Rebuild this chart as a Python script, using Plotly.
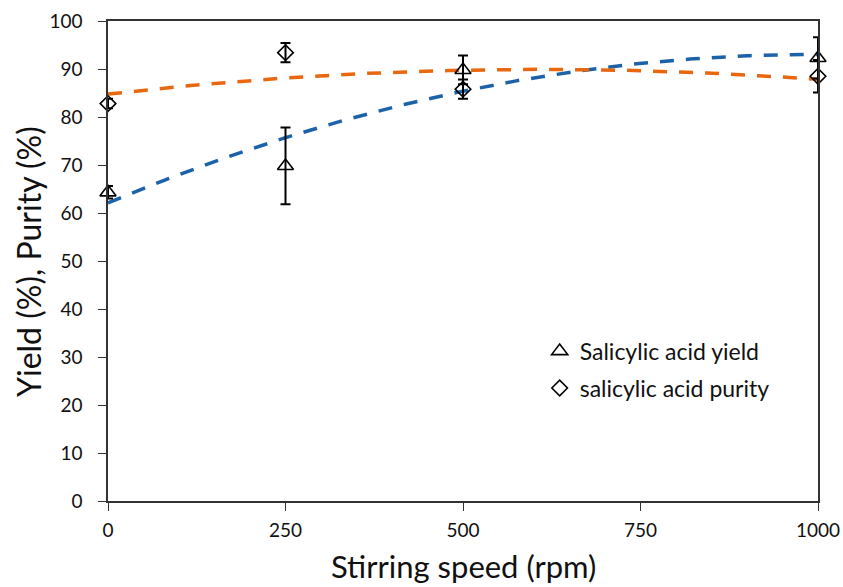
import numpy as np
import plotly.graph_objects as go

speed = [0, 250, 500, 1000]
yield_vals = [64.3, 69.8, 89.8, 92.3]
yield_err = [1.3, 8.0, 3.0, 4.3]
purity_vals = [82.8, 93.4, 85.8, 88.5]
purity_err = [1.0, 2.0, 2.0, 3.4]

blue = "#1B62A8"
orange = "#E8670F"
font_family = "Lato, 'Open Sans', sans-serif"

xs = np.linspace(0, 1000, 201)
fit_y = np.polyval(np.polyfit(speed, yield_vals, 2), xs)
fit_p = np.polyval(np.polyfit(speed, purity_vals, 2), xs)

fig = go.Figure()
fig.add_trace(go.Scatter(x=xs, y=fit_y, mode="lines", showlegend=False, cliponaxis=False,
                         line=dict(color=blue, width=3.5, dash="14px,12px"), hoverinfo="skip"))
fig.add_trace(go.Scatter(x=xs, y=fit_p, mode="lines", showlegend=False, cliponaxis=False,
                         line=dict(color=orange, width=3.5, dash="14px,12px"), hoverinfo="skip"))
fig.add_trace(go.Scatter(
    x=speed, y=yield_vals, mode="markers", name="Salicylic acid yield", legendgroup="a", cliponaxis=False,
    marker=dict(symbol="triangle-up-open", size=14, color="black", line=dict(width=1.6, color="black")),
    error_y=dict(type="data", array=yield_err, visible=True, color="black", thickness=2, width=5)))
fig.add_trace(go.Scatter(
    x=speed, y=purity_vals, mode="markers", name="salicylic acid purity", legendgroup="b", cliponaxis=False,
    marker=dict(symbol="diamond-open", size=12, color="black", line=dict(width=1.6, color="black")),
    error_y=dict(type="data", array=purity_err, visible=True, color="black", thickness=2, width=5)))

fig.update_layout(
    width=843, height=587,
    margin=dict(l=108, r=25, t=21, b=86),
    plot_bgcolor="white", paper_bgcolor="white",
    font=dict(family=font_family, color="#111111"),
    legend=dict(x=0.608, y=0.357, xanchor="left", yanchor="top", font=dict(size=23, color="#111111"),
                bgcolor="rgba(0,0,0,0)", tracegroupgap=4),
    xaxis=dict(range=[0, 1000], tickvals=[0, 250, 500, 750, 1000], showgrid=False, zeroline=False,
               showline=True, linecolor="#333333", linewidth=1.5, mirror=True, automargin=False,
               ticks="outside", ticklen=8, tickcolor="#333333", tickwidth=1.2,
               tickfont=dict(size=19), ticklabelstandoff=3),
    yaxis=dict(range=[0, 100], dtick=10, showgrid=False, zeroline=False,
               showline=True, linecolor="#333333", linewidth=1.5, mirror=True, automargin=False,
               ticks="outside", ticklen=8, tickcolor="#333333", tickwidth=1.2,
               tickfont=dict(size=19), ticklabelstandoff=12),
    annotations=[
        dict(text="Stirring speed (rpm)", xref="paper", yref="paper", x=0.5, y=-0.135,
             xanchor="center", yanchor="middle", showarrow=False, font=dict(size=31)),
        dict(text="Yield (%), Purity (%)", xref="paper", yref="paper", x=-0.1127, y=0.5,
             xanchor="center", yanchor="middle", textangle=-90, showarrow=False, font=dict(size=32)),
    ],
)

fig.write_html("out.html")
